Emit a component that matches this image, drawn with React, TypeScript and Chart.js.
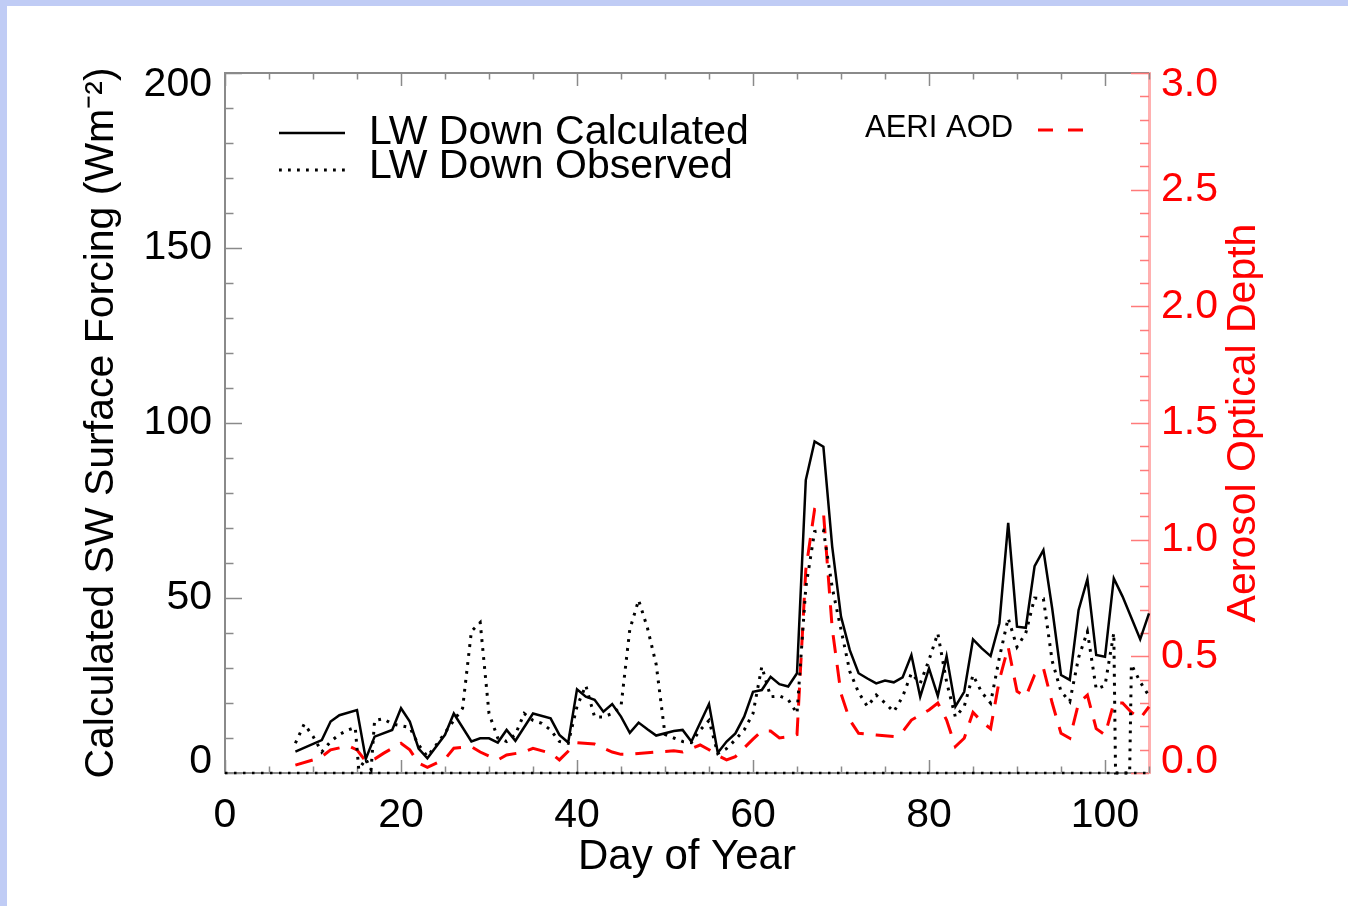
import React, { useEffect, useRef } from 'react';
import { Chart, registerables } from 'chart.js';

Chart.register(...registerables);

const FONT = "'Liberation Sans', Arial, Helvetica, sans-serif";

// ---- data ----
const calcDays = [8, 11, 12, 13, 15, 16, 17, 19, 20, 21, 22, 23, 25, 26, 28, 29, 30, 31, 32, 33, 35, 37, 38, 39, 40, 41, 42, 43, 44, 45, 46, 47, 48, 49, 51, 52, 53, 55, 56, 57, 58, 59, 60, 61, 62, 63, 64, 65, 66, 67, 68, 69, 70, 71, 72, 73, 74, 75, 76, 77, 78, 79, 80, 81, 82, 83, 84, 85, 86, 87, 88, 89, 90, 91, 92, 93, 94, 95, 96, 97, 98, 99, 100, 101, 102, 104, 105];
const calcValues = [6.1, 9.4, 14.7, 16.5, 18, 4, 10.4, 12.3, 18.5, 14.7, 7, 4.2, 10.9, 17, 9, 9.9, 9.9, 8.7, 12.3, 9.2, 17, 15.6, 10.9, 8.7, 23.9, 21.8, 20.9, 17.5, 19.7, 16.1, 11.5, 14.4, 12.5, 10.7, 12, 12.3, 9, 19.7, 5.8, 9, 11.3, 16.1, 23.2, 23.7, 27.5, 25.4, 24.7, 28.5, 83.7, 94.7, 93.2, 64.7, 44.7, 35.1, 28.5, 27, 25.6, 26.4, 25.9, 27.3, 33.7, 21.8, 29.9, 22, 33.4, 19, 23.2, 38.2, 35.6, 33.4, 42.8, 71.5, 41.8, 41.5, 59.1, 63.7, 47, 28, 26.6, 46.6, 55.4, 33.7, 33.2, 55.6, 50.4, 38.2, 45.6];

const obsDays = [8, 9, 10, 11, 12, 13, 14, 14.8, 15.2, 16, 16.6, 17, 18, 19, 20, 21, 22, 23, 24, 25, 26, 27, 28, 29, 30, 31, 32, 33, 34, 35, 36, 37, 38, 39, 40, 41, 42, 43, 44, 45, 46, 47, 48, 49, 50, 51, 52, 53, 54, 55, 56, 57, 58, 59, 60, 61, 62, 63, 64, 65, 66, 67, 68, 69, 70, 71, 72, 73, 74, 75, 76, 77, 78, 79, 80, 81, 82, 83, 84, 85, 86, 87, 88, 89, 90, 91, 92, 93, 94, 95, 96, 97, 98, 99, 100, 101, 101.2, 102.8, 103, 104, 105];
const obsValues = [8.5, 14, 10.5, 6, 9, 11, 12.3, 13, 1, 4, 1, 15, 15.5, 14, 13.5, 13, 8, 4.7, 8, 11.5, 15, 18.5, 40.5, 43, 17, 10, 9, 11, 17, 15, 14.2, 12.3, 9, 8.5, 19, 25, 16, 16, 17, 19, 41, 49.4, 41.5, 31, 11, 10, 9, 8.7, 12.3, 15, 5.6, 7, 9.5, 12.3, 17, 30.4, 21.8, 22, 21, 17, 53, 69, 69.4, 53, 41, 29, 23, 19, 22.3, 20, 17.5, 21.8, 28.5, 25.6, 32.3, 39.9, 26, 16, 19, 28, 23, 20, 33, 44.2, 36, 40, 50, 49.8, 32, 23.3, 20.4, 33, 40.4, 24, 25, 40, 0, 0, 31, 26, 22];

const aodDays = [8, 10, 11, 12, 14, 15, 16, 17, 18, 20, 21, 22, 23, 25, 26, 28, 29, 31, 32, 34, 35, 37, 38, 40, 42, 44, 45, 46, 49, 51, 52, 54, 55, 56, 57, 58, 60, 61, 62, 63, 64, 65, 66, 67, 68, 69, 70, 71, 72, 74, 76, 77, 78, 80, 81, 82, 83, 84, 85, 86, 87, 88, 89, 90, 91, 92, 93, 94, 95, 96, 97, 98, 99, 100, 101, 102, 103, 104, 105];
const aodValues = [0.034, 0.056, 0.07, 0.099, 0.116, 0.099, 0.05, 0.06, 0.084, 0.127, 0.099, 0.042, 0.024, 0.06, 0.106, 0.113, 0.09, 0.056, 0.077, 0.09, 0.106, 0.085, 0.056, 0.13, 0.124, 0.09, 0.08, 0.08, 0.09, 0.095, 0.09, 0.12, 0.1, 0.075, 0.056, 0.07, 0.145, 0.18, 0.18, 0.15, 0.155, 0.165, 0.87, 1.13, 1.12, 0.62, 0.34, 0.227, 0.17, 0.163, 0.156, 0.177, 0.227, 0.27, 0.3, 0.227, 0.113, 0.149, 0.26, 0.22, 0.19, 0.4, 0.54, 0.35, 0.327, 0.42, 0.45, 0.3, 0.17, 0.149, 0.3, 0.334, 0.19, 0.163, 0.3, 0.3, 0.26, 0.234, 0.284];

const dayRange = [0, 105];
const forcingRange = [0, 200];
const aodRange = [0, 3];
const dayTicks = [0, 20, 40, 60, 80, 100];
const forcingTicks = [0, 50, 100, 150, 200];
const aodTicks = [0, 0.5, 1, 1.5, 2, 2.5, 3];

const seriesLabels = ['LW Down Calculated', 'LW Down Observed', 'AERI AOD'];
const xTitle = 'Day of Year';
const yTitle = 'Calculated SW Surface Forcing (Wm\u207B\u00B2)';
const y1Title = 'Aerosol Optical Depth';

// ---- styles ----
const AXIS_GRAY = '#8a8a8a';
const RED = '#ff0000';
const PINK_AXIS = '#ffb0b0';
const RED_TICK = '#ff7a7a';
const MAIN_SIZE = 41;

const toPoints = (xs: number[], ys: number[]) => xs.map((x, i) => ({ x, y: ys[i] }));

const frameTicksPlugin = {
  id: 'frameTicks',
  beforeDatasetsDraw(chart: any) {
    const { ctx, chartArea: a, scales } = chart;
    const xs = scales.x, ys = scales.y, y1s = scales.y1;
    ctx.save();
    ctx.lineCap = 'butt';
    ctx.strokeStyle = AXIS_GRAY;
    ctx.lineWidth = 2;
    ctx.beginPath();
    ctx.moveTo(a.left, a.top);
    ctx.lineTo(a.right, a.top);
    ctx.stroke();
    ctx.lineWidth = 1.5;
    for (let d = dayRange[0]; d <= dayRange[1]; d += 5) {
      const px = Math.round(xs.getPixelForValue(d)) + 0.5;
      const len = d % 20 === 0 ? 13 : 6.5;
      ctx.beginPath();
      ctx.moveTo(px, a.bottom);
      ctx.lineTo(px, a.bottom - len);
      ctx.moveTo(px, a.top);
      ctx.lineTo(px, a.top + len);
      ctx.stroke();
    }
    for (let v = forcingRange[0]; v <= forcingRange[1]; v += 10) {
      const py = Math.round(ys.getPixelForValue(v)) + 0.5;
      const len = v % 50 === 0 ? 17 : 8.5;
      ctx.beginPath();
      ctx.moveTo(a.left, py);
      ctx.lineTo(a.left + len, py);
      ctx.stroke();
    }
    ctx.strokeStyle = RED_TICK;
    for (let i = 0; i <= 30; i++) {
      const v = i / 10;
      const py = Math.round(y1s.getPixelForValue(v)) + 0.5;
      const len = i % 5 === 0 ? 18 : 9;
      ctx.beginPath();
      ctx.moveTo(a.right, py);
      ctx.lineTo(a.right - len, py);
      ctx.stroke();
    }
    ctx.restore();
  },
};

const legendAndTitlePlugin = {
  id: 'legendAndTitle',
  afterDraw(chart: any) {
    const { ctx } = chart;
    const ds = chart.data.datasets;
    ctx.save();
    ctx.textBaseline = 'alphabetic';
    ctx.textAlign = 'left';
    ctx.font = `${MAIN_SIZE}px ${FONT}`;
    const rows = [
      { i: 0, y: 133, base: 144 },
      { i: 1, y: 170, base: 178 },
    ];
    rows.forEach((r) => {
      const d = ds[r.i];
      ctx.strokeStyle = d.borderColor;
      ctx.lineWidth = d.borderWidth;
      ctx.setLineDash(d.borderDash || []);
      ctx.lineCap = 'butt';
      ctx.beginPath();
      ctx.moveTo(279, r.y);
      ctx.lineTo(345, r.y);
      ctx.stroke();
      ctx.setLineDash([]);
      ctx.fillStyle = '#000';
      ctx.fillText(d.label, 369, r.base);
    });
    const a = ds[2];
    ctx.font = `31px ${FONT}`;
    ctx.fillStyle = '#000';
    ctx.fillText(a.label, 865, 137);
    ctx.strokeStyle = a.borderColor;
    ctx.lineWidth = a.borderWidth;
    ctx.setLineDash([15, 15]);
    ctx.beginPath();
    ctx.moveTo(1038, 130);
    ctx.lineTo(1084, 130);
    ctx.stroke();
    ctx.setLineDash([]);
    ctx.translate(1244, (chart.chartArea.top + chart.chartArea.bottom) / 2);
    ctx.rotate(-Math.PI / 2);
    ctx.font = `${MAIN_SIZE}px ${FONT}`;
    ctx.fillStyle = RED;
    ctx.textAlign = 'center';
    ctx.textBaseline = 'middle';
    ctx.fillText(y1Title, 0, 0);
    ctx.restore();
  },
};

export default function App() {
  const ref = useRef<HTMLCanvasElement>(null);

  useEffect(() => {
    if (!ref.current) return;
    const chart = new Chart(ref.current, {
      type: 'line',
      data: {
        datasets: [
          {
            label: seriesLabels[0],
            data: toPoints(calcDays, calcValues),
            borderColor: '#000000',
            borderWidth: 2.5,
            pointRadius: 0,
            tension: 0,
            yAxisID: 'y',
            clip: 6,
          },
          {
            label: seriesLabels[1],
            data: toPoints(obsDays, obsValues),
            borderColor: '#000000',
            borderWidth: 3,
            borderDash: [2.8, 6.2],
            pointRadius: 0,
            tension: 0,
            yAxisID: 'y',
            clip: 6,
          },
          {
            label: seriesLabels[2],
            data: toPoints(aodDays, aodValues),
            borderColor: RED,
            borderWidth: 3,
            borderDash: [18, 12],
            pointRadius: 0,
            tension: 0,
            yAxisID: 'y1',
            clip: 6,
          },
          {
            label: 'zero',
            data: toPoints(dayRange, [0, 0]),
            borderColor: '#000000',
            borderWidth: 2.5,
            borderDash: [2.5, 6.5],
            pointRadius: 0,
            yAxisID: 'y',
            clip: 6,
          },
        ],
      } as any,
      options: {
        responsive: false,
        animation: false,
        layout: { padding: { top: 73, left: 0, right: 0, bottom: 0 } },
        plugins: {
          legend: { display: false },
          tooltip: { enabled: false },
        },
        scales: {
          x: {
            type: 'linear',
            position: 'bottom',
            min: dayRange[0],
            max: dayRange[1],
            grid: { display: false, drawTicks: false },
            border: { display: true, color: AXIS_GRAY, width: 2 },
            afterBuildTicks: (s: any) => {
              s.ticks = dayTicks.map((v) => ({ value: v }));
            },
            afterFit: (s: any) => {
              s.height = 133;
            },
            ticks: {
              color: '#000',
              font: { family: FONT, size: MAIN_SIZE },
              padding: 18,
              maxRotation: 0,
              autoSkip: false,
              callback: (v: any) => String(v),
            },
            title: {
              display: true,
              text: xTitle,
              color: '#000',
              font: { family: FONT, size: 42 },
              padding: { top: 0, bottom: 23 },
            },
          },
          y: {
            type: 'linear',
            position: 'left',
            min: forcingRange[0],
            max: forcingRange[1],
            grid: { display: false, drawTicks: false },
            border: { display: true, color: AXIS_GRAY, width: 2 },
            afterBuildTicks: (s: any) => {
              s.ticks = forcingTicks.map((v) => ({ value: v }));
            },
            afterFit: (s: any) => {
              s.width = 225;
            },
            ticks: {
              color: '#000',
              font: { family: FONT, size: MAIN_SIZE, lineHeight: 0.55 },
              padding: 13,
              autoSkip: false,
              callback: (v: any) => {
                if (v === forcingRange[1]) return ['', String(v)];
                if (v === forcingRange[0]) return [String(v), ''];
                return String(v);
              },
            },
            title: {
              display: true,
              text: yTitle,
              color: '#000',
              font: { family: FONT, size: MAIN_SIZE },
              padding: { top: 77, bottom: 0 },
            },
          },
          y1: {
            type: 'linear',
            position: 'right',
            min: aodRange[0],
            max: aodRange[1],
            grid: { display: false, drawTicks: false },
            border: { display: true, color: PINK_AXIS, width: 3 },
            afterBuildTicks: (s: any) => {
              s.ticks = aodTicks.map((v) => ({ value: v }));
            },
            afterFit: (s: any) => {
              s.width = 199;
            },
            ticks: {
              color: RED,
              font: { family: FONT, size: MAIN_SIZE, lineHeight: 0.55 },
              padding: 12,
              autoSkip: false,
              callback: (v: any) => {
                const t = Number(v).toFixed(1);
                if (Math.abs(v - aodRange[1]) < 1e-9) return ['', t];
                if (Math.abs(v - aodRange[0]) < 1e-9) return [t, ''];
                return t;
              },
            },
            title: { display: false, text: y1Title },
          },
        },
      },
      plugins: [frameTicksPlugin, legendAndTitlePlugin],
    } as any);
    return () => chart.destroy();
  }, []);

  return (
    <div
      style={{
        position: 'absolute',
        left: 0,
        top: 0,
        width: 1348,
        height: 906,
        background: 'rgb(192,204,245)',
        overflow: 'hidden',
      }}
    >
      <div style={{ position: 'absolute', left: 7, top: 6, right: 0, bottom: 0, background: '#ffffff' }} />
      <canvas
        ref={ref}
        width={1348}
        height={906}
        style={{ position: 'absolute', left: 0, top: 0, width: 1348, height: 906 }}
      />
    </div>
  );
}
